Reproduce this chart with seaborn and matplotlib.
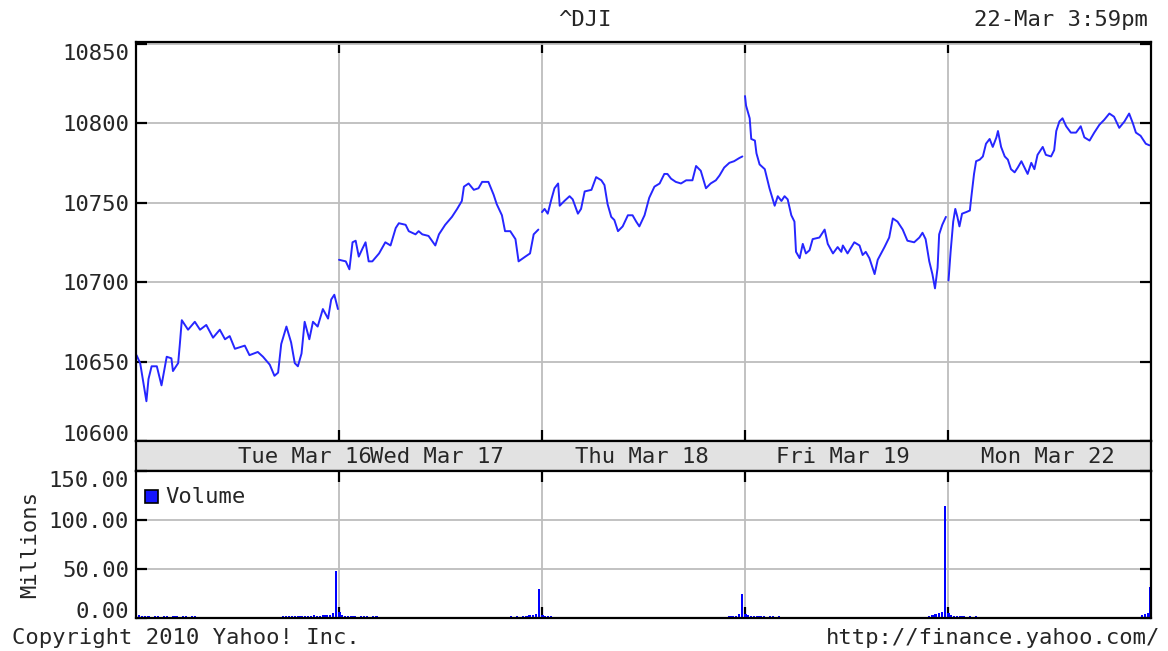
#!/usr/bin/env python3
"""
Five day ^DJI intraday chart (Yahoo style) with volume panel.
"""
import pandas as pd
import seaborn as sns
import matplotlib.pyplot as plt
from matplotlib.patches import Rectangle

# trading sessions and the labels printed in the date band
days = ["Mon Mar 15", "Tue Mar 16", "Wed Mar 17", "Thu Mar 18", "Fri Mar 19"]
band_labels = ["Tue Mar 16", "Wed Mar 17", "Thu Mar 18", "Fri Mar 19", "Mon Mar 22"]

# index level, minutes after the 9:30 open
mon_min = [1, 8, 14, 20, 24, 30, 40, 49, 59, 68, 71, 81, 84, 88, 100, 113, 123, 135, 148, 161,
           171, 180, 190, 209, 218, 234, 244, 257, 266, 273, 279, 289, 298, 305, 311, 318, 324,
           333, 340, 349, 359, 369, 375, 381, 388]
mon_px = [10654, 10649, 10637, 10625, 10639, 10647, 10647, 10635, 10653, 10652, 10644, 10649,
          10660, 10676, 10670, 10675, 10670, 10673, 10665, 10670, 10664, 10666, 10658, 10660,
          10654, 10656, 10653, 10648, 10641, 10643, 10661, 10672, 10662, 10649, 10647, 10655,
          10675, 10664, 10675, 10672, 10683, 10677, 10689, 10692, 10683]

tue_min = [0, 13, 20, 26, 32, 38, 45, 51, 57, 64, 77, 89, 99, 109, 115, 128, 134, 147, 153, 160,
           172, 185, 192, 204, 217, 227, 236, 240, 249, 259, 268, 275, 287, 297, 303, 313, 319,
           329, 339, 345, 358, 367, 374, 383]
tue_px = [10714, 10713, 10708, 10725, 10726, 10716, 10721, 10725, 10713, 10713, 10718, 10725,
          10723, 10734, 10737, 10736, 10732, 10730, 10732, 10730, 10729, 10723, 10730, 10736,
          10741, 10746, 10751, 10760, 10762, 10758, 10759, 10763, 10763, 10755, 10749, 10742,
          10732, 10732, 10727, 10713, 10716, 10718, 10730, 10733]

wed_min = [0, 5, 11, 18, 24, 31, 34, 43, 53, 59, 69, 75, 82, 95, 104, 114, 120, 126, 133, 139,
           146, 155, 165, 174, 181, 187, 197, 206, 216, 226, 235, 241, 248, 257, 267, 277, 289,
           296, 305, 315, 324, 334, 341, 350, 360, 369, 379, 385]
wed_px = [10744, 10746, 10743, 10752, 10759, 10762, 10748, 10751, 10754, 10752, 10743, 10746,
          10757, 10758, 10766, 10764, 10761, 10749, 10741, 10739, 10732, 10735, 10742, 10742,
          10738, 10735, 10742, 10753, 10760, 10762, 10768, 10768, 10765, 10763, 10762, 10764,
          10764, 10773, 10770, 10759, 10762, 10764, 10767, 10772, 10775, 10776, 10778, 10779]

thu_min = [0, 2, 9, 12, 19, 22, 28, 38, 47, 57, 63, 70, 76, 82, 89, 95, 98, 105, 111, 117, 124,
           130, 143, 153, 159, 169, 178, 185, 188, 197, 210, 220, 226, 232, 239, 249, 255, 268,
           277, 284, 293, 303, 312, 325, 335, 341, 347, 354, 360, 365, 370, 373, 379, 386]
thu_px = [10817, 10811, 10803, 10790, 10789, 10781, 10774, 10771, 10759, 10748, 10754, 10751,
          10754, 10752, 10742, 10738, 10719, 10715, 10724, 10718, 10720, 10727, 10728, 10733,
          10724, 10718, 10722, 10719, 10723, 10718, 10725, 10723, 10717, 10719, 10715, 10705,
          10714, 10722, 10728, 10740, 10738, 10733, 10726, 10725, 10728, 10731, 10727, 10713,
          10705, 10696, 10709, 10730, 10736, 10741]

fri_min = [1, 5, 10, 14, 18, 22, 27, 35, 42, 45, 50, 54, 61, 67, 73, 80, 86, 93, 96, 102, 109,
           115, 121, 128, 134, 141, 147, 153, 160, 166, 172, 182, 188, 198, 204, 208, 214, 220,
           227, 236, 246, 255, 262, 272, 281, 291, 300, 310, 319, 329, 339, 348, 355, 361, 370,
           380, 387]
fri_px = [10701, 10719, 10738, 10746, 10741, 10735, 10743, 10744, 10745, 10754, 10768, 10776,
          10777, 10779, 10787, 10790, 10785, 10791, 10795, 10785, 10779, 10777, 10771, 10769,
          10772, 10776, 10772, 10768, 10775, 10771, 10780, 10785, 10780, 10779, 10783, 10795,
          10801, 10803, 10798, 10794, 10794, 10798, 10791, 10789, 10794, 10799, 10802, 10806,
          10804, 10797, 10801, 10806, 10800, 10794, 10792, 10787, 10786]

# volume in millions, minutes after the open
mon_vmin = [0, 6, 12, 18, 24, 30, 36, 42, 48, 54, 60, 66, 72, 78, 84, 90, 96, 102, 108, 114, 120,
            276, 282, 288, 294, 300, 306, 312, 318, 324, 330, 336, 342, 348, 354, 360, 366, 372,
            378, 384]
mon_vol = [9, 3, 2, 2, 2, 1.5, 2, 2, 1.5, 2, 2, 1.5, 2, 2, 1.5, 2, 2, 1.5, 2, 2, 1.5,
           1.5, 2, 2, 2, 2.5, 2, 2, 2.5, 2, 2, 2.5, 3, 2, 2.5, 3, 3, 3.5, 5, 48]
tue_vmin = [1, 6, 12, 18, 24, 30, 36, 42, 48, 54, 60, 66, 72, 111, 134, 243, 306, 318, 330, 342,
            348, 354, 360, 366, 372, 378, 384]
tue_vol = [6, 3, 2, 2, 2, 2, 1.5, 2, 2, 2, 1.5, 2, 2, 1.5, 1.5, 1.5, 1.5, 1.5, 2, 2, 1.5, 2,
           2.5, 3, 3.5, 4, 30]
wed_vmin = [1, 6, 12, 18, 24, 30, 90, 354, 360, 366, 372, 378, 384]
wed_vol = [3, 2, 2, 2, 1.5, 1.5, 1.5, 1.5, 2, 2, 2.5, 4, 24]
thu_vmin = [1, 6, 12, 18, 24, 30, 36, 42, 48, 54, 60, 66, 72, 78, 111, 354, 360, 366, 372, 378,
            384]
thu_vol = [4, 3, 2, 2.5, 2, 2, 2, 1.5, 2, 2, 1.5, 2, 1.5, 1.5, 1.5, 2, 3, 4, 5, 6, 114]
fri_vmin = [1, 6, 12, 18, 24, 30, 36, 42, 48, 54, 60, 66, 372, 378, 384, 388]
fri_vol = [5, 3, 2, 2, 2, 2, 1.5, 2, 1.5, 2, 1.5, 1.5, 3, 4, 5, 32]

price_ticks = [10600, 10650, 10700, 10750, 10800, 10850]
volume_ticks = [0, 50, 100, 150]

SESSION = 390.0  # minutes per trading day
LINE = "#2626ff"
FONT = ["DejaVu Sans Mono"]
FS = 16

price_rows = []
for i, (mins, vals) in enumerate(zip([mon_min, tue_min, wed_min, thu_min, fri_min],
                                     [mon_px, tue_px, wed_px, thu_px, fri_px])):
    for m, v in zip(mins, vals):
        price_rows.append({"day": days[i], "t": i + m / SESSION, "price": v})
price_df = pd.DataFrame(price_rows)

vol_rows = []
for i, (mins, vals) in enumerate(zip([mon_vmin, tue_vmin, wed_vmin, thu_vmin, fri_vmin],
                                     [mon_vol, tue_vol, wed_vol, thu_vol, fri_vol])):
    for m, v in zip(mins, vals):
        vol_rows.append({"day": days[i], "t": i + m / SESSION, "vol": v})
vol_df = pd.DataFrame(vol_rows)

sns.set_style("white")
plt.rcParams["font.family"] = FONT
plt.rcParams["font.size"] = FS

W, H = 1168, 651
fig = plt.figure(figsize=(W / 100, H / 100), dpi=100)


def box(x0, y0, x1, y1):
    # pixel box (top-left origin) -> figure fraction rect
    return [x0 / W, 1 - y1 / H, (x1 - x0) / W, (y1 - y0) / H]


ax_p = fig.add_axes(box(136, 42, 1151, 441))
ax_b = fig.add_axes(box(136, 441, 1151, 471))
ax_v = fig.add_axes(box(136, 471, 1151, 618))

sns.lineplot(data=price_df, x="t", y="price", units="day", estimator=None,
             color=LINE, linewidth=1.4, legend=False, ax=ax_p)
ax_v.bar(vol_df["t"], vol_df["vol"], width=0.011, color="#0000ff", linewidth=0)

for ax in (ax_p, ax_b, ax_v):
    ax.set_xlim(0, 5)
    ax.set_xlabel("")
    ax.set_ylabel("")
    for s in ax.spines.values():
        s.set_color("black")
        s.set_linewidth(1.6)

for ax in (ax_p, ax_v):
    ax.set_axisbelow(True)
    ax.set_xticks([1, 2, 3, 4])
    ax.set_xticklabels([])
    ax.grid(True, color="#bdbdbd", linewidth=1.3)
    ax.tick_params(axis="both", direction="in", length=8, width=1.6, color="black",
                   top=True, bottom=True, left=True, right=True, labelsize=FS, pad=5)

ax_p.set_ylim(10600, 10851)
ax_p.set_yticks(price_ticks)
ax_p.set_yticklabels([str(v) for v in price_ticks])

ax_v.set_ylim(0, 150)
ax_v.set_yticks(volume_ticks)
ax_v.set_yticklabels([f"{v:.2f}" for v in volume_ticks])

# keep the end labels inside the panels, as the original does
for ax in (ax_p, ax_v):
    ticks = ax.yaxis.get_major_ticks()
    ticks[0].label1.set_verticalalignment("baseline")
    ticks[-1].label1.set_verticalalignment("top")

# date band
ax_b.set_facecolor("#e2e2e2")
ax_b.set_ylim(0, 1)
ax_b.set_xticks([])
ax_b.set_yticks([])
band_pos = [0.83, 1.48, 2.49, 3.48, 4.49]
for x, lab in zip(band_pos, band_labels):
    ax_b.text(x, 0.48, lab, ha="center", va="center", fontsize=FS)

# volume legend
ax_v.add_patch(Rectangle((0.009, 0.78), 0.0128, 0.088, transform=ax_v.transAxes,
                         facecolor="#1515ff", edgecolor="black", linewidth=1.2))
ax_v.text(0.0285, 0.822, "Volume", transform=ax_v.transAxes, ha="left", va="center",
          fontsize=FS)

fig.text(30 / W, 1 - 545 / H, "Millions", rotation=90, ha="center", va="center", fontsize=FS)
fig.text(585 / W, 1 - 20 / H, "^DJI", ha="center", va="center", fontsize=FS)
fig.text(1148 / W, 1 - 20 / H, "22-Mar 3:59pm", ha="right", va="center", fontsize=FS)
fig.text(12 / W, 1 - 638 / H, "Copyright 2010 Yahoo! Inc.", ha="left", va="center", fontsize=FS)
fig.text(1160 / W, 1 - 638 / H, "http://finance.yahoo.com/", ha="right", va="center",
         fontsize=FS)

fig.savefig("out.png", dpi=100, facecolor="white")
plt.close(fig)
